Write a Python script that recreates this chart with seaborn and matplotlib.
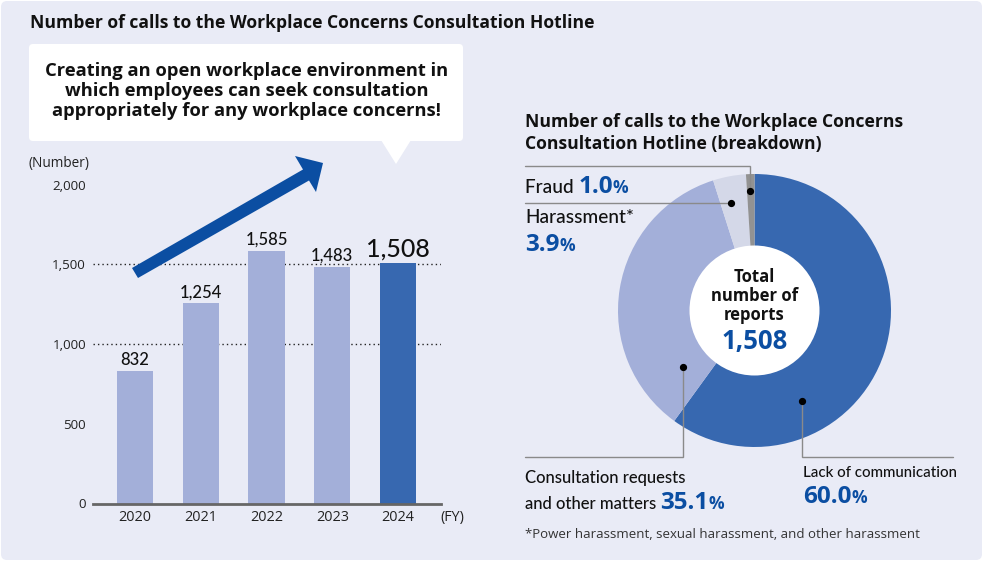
"""
Workplace Concerns Consultation Hotline: calls per year and breakdown
"""
import matplotlib
matplotlib.use('Agg')
import matplotlib.pyplot as plt
import seaborn as sns
import pandas as pd
from matplotlib.patches import Circle, FancyBboxPatch, Polygon

sns.set_style("white")
# Open Sans has a real bold file, Lato a real medium one
plt.rcParams['font.family'] = ['Open Sans', 'DejaVu Sans']

W, H = 982, 561
BG = '#E9EBF6'
LIGHT = '#A3AFD9'
DARK = '#3768B0'
BLUE = '#0B4EA2'
TEXT = '#111111'
GREY = '#8A8A8A'

calls = pd.DataFrame({
    'year': ['2020', '2021', '2022', '2023', '2024'],
    'calls': [832, 1254, 1585, 1483, 1508],
})
breakdown = {
    'Lack of communication': (60.0, DARK),
    'Consultation requests and other matters': (35.1, LIGHT),
    'Harassment': (3.9, '#D4D8E8'),
    'Fraud': (1.0, '#929292'),
}


def px_axes(fig, left, top, right, bottom):
    """Axes placed by pixel edges of the figure"""
    return fig.add_axes([left / W, 1 - bottom / H, (right - left) / W, (bottom - top) / H])


def text_runs(ax, x, y, runs):
    """Writes several styled pieces one after another on the same baseline"""
    renderer = ax.figure.canvas.get_renderer()
    for txt, size, weight, color in runs:
        family = ['Lato', 'DejaVu Sans'] if weight == 'medium' else ['Open Sans', 'DejaVu Sans']
        t = ax.text(x, y, txt, fontsize=size, fontweight=weight, color=color, family=family,
                    ha='left', va='baseline')
        x = t.get_window_extent(renderer).x1


fig = plt.figure(figsize=(W / 100, H / 100), dpi=100, facecolor='white')

# Overlay in pixel coordinates for the panel, callout and labels
bg = px_axes(fig, 0, 0, W, H)
bg.set_xlim(0, W)
bg.set_ylim(H, 0)
bg.axis('off')
bg.add_patch(FancyBboxPatch((5, 5), W - 9, H - 10, boxstyle='round,pad=4,rounding_size=6',
                            fc=BG, ec='none'))

# Bar chart
ax = px_axes(fig, 93, 184.5, 441, 503.5)
ax.patch.set_alpha(0)
for level in [1000, 1500]:
    ax.axhline(level, color='#222222', lw=1, ls=(0, (1, 2.2)), zorder=0)
sns.barplot(data=calls, x='year', y='calls', hue='year', ax=ax, width=0.55, legend=False,
            palette=[LIGHT, LIGHT, LIGHT, LIGHT, DARK], saturation=1, linewidth=0, zorder=2)
ax.set_xlim(-0.639, 4.654)
ax.set_ylim(0, 2000)
ax.set_xlabel('')
ax.set_ylabel('')
ax.set_yticks([0, 500, 1000, 1500, 2000])
ax.set_yticklabels(['0', '500', '1,000', '1,500', '2,000'])
ax.tick_params(axis='y', length=0, pad=5, labelsize=9.6, labelcolor='#222222')
ax.tick_params(axis='x', length=0, pad=5, labelsize=10.4, labelcolor='#222222')
for side in ['top', 'left', 'right']:
    ax.spines[side].set_visible(False)
ax.spines['bottom'].set_color('#666666')
ax.spines['bottom'].set_linewidth(2)

# Value labels
for i, row in calls.iterrows():
    last = row['year'] == '2024'
    ax.text(i, row['calls'] + 38, f"{row['calls']:,}", ha='center', va='baseline',
            fontsize=18 if last else 12, fontweight='medium', color=TEXT, zorder=5,
            family=['Lato', 'DejaVu Sans'])

# Donut chart
cx, cy, r = 754.5, 310.5, 136.5
pie = px_axes(fig, cx - r, cy - r, cx + r, cy + r)
values = [v[0] for v in breakdown.values()]
colors = [v[1] for v in breakdown.values()]
pie.pie(values, colors=colors, startangle=90, counterclock=False, radius=1,
        wedgeprops={'linewidth': 0})
pie.add_patch(Circle((0, 0), 65 / r, fc='white', ec='none', zorder=5))
pie.set_xlim(-1, 1)
pie.set_ylim(-1, 1)

# Everything else goes on a top layer
top = px_axes(fig, 0, 0, W, H)
top.set_xlim(0, W)
top.set_ylim(H, 0)
top.axis('off')
fig.canvas.draw()

top.text(30, 27.5, 'Number of calls to the Workplace Concerns Consultation Hotline',
         fontsize=12.6, fontweight='bold', color=TEXT, ha='left', va='baseline')

# Callout
top.add_patch(FancyBboxPatch((32, 47), 428, 91, boxstyle='round,pad=3,rounding_size=4',
                             fc='white', ec='none'))
top.add_patch(Polygon([(381, 140), (411, 140), (396, 164)], fc='white', ec='none'))
top.text(247, 91, 'Creating an open workplace environment in\n'
                  'which employees can seek consultation\n'
                  'appropriately for any workplace concerns!',
         fontsize=13.25, fontweight='bold', color=TEXT, ha='center', va='center',
         linespacing=1.16)

# Trend arrow
top.add_patch(Polygon([(132, 268), (303, 169.5), (295, 156), (323, 163), (316, 192),
                       (309, 180.5), (138, 278)], fc=BLUE, ec='none'))

top.text(29, 167, '(Number)', fontsize=9.8, color='#222222', va='baseline')
top.text(440, 521, '(FY)', fontsize=10.4, color='#222222', va='baseline')

# Right hand titles
top.text(525, 126.5, 'Number of calls to the Workplace Concerns', fontsize=12.6,
         fontweight='bold', color=TEXT, va='baseline')
top.text(525, 148.5, 'Consultation Hotline (breakdown)', fontsize=12.6,
         fontweight='bold', color=TEXT, va='baseline')

# Center of the donut
top.text(cx, 296, 'Total\nnumber of\nreports', fontsize=12, fontweight='bold', color=TEXT,
         ha='center', va='center', linespacing=1.08)
top.text(cx, 341, '1,508', fontsize=18.5, fontweight='bold', color=BLUE, ha='center',
         va='center')

# Leader lines
for xs, ys, dot in [
    ([525, 750, 750], [166, 166, 191], (750, 191)),
    ([525, 731], [203, 203], (731, 203)),
    ([525, 683, 683], [456.5, 456.5, 367], (683, 367)),
    ([953, 802, 802], [456.5, 456.5, 401], (802, 401)),
]:
    top.plot(xs, ys, color=GREY, lw=1, solid_joinstyle='miter')
    top.plot(*dot, 'o', color='black', ms=4.2)

# Breakdown labels
text_runs(top, 525, 192.5, [('Fraud ', 13.7, 'medium', TEXT), ('1.0', 17.5, 'bold', BLUE),
                            ('%', 12.5, 'bold', BLUE)])
text_runs(top, 525, 222.5, [('Harassment*', 13.7, 'medium', TEXT)])
text_runs(top, 525, 250.5, [('3.9', 17.5, 'bold', BLUE), ('%', 12.5, 'bold', BLUE)])
text_runs(top, 525, 482.5, [('Consultation requests', 12, 'medium', TEXT)])
text_runs(top, 525, 509, [('and other matters ', 12, 'medium', TEXT),
                          ('35.1', 17.5, 'bold', BLUE), ('%', 12.5, 'bold', BLUE)])
text_runs(top, 803, 476.5, [('Lack of communication', 10.8, 'medium', TEXT)])
text_runs(top, 803, 502.5, [('60.0', 17.5, 'bold', BLUE), ('%', 12.5, 'bold', BLUE)])
top.text(525, 538, '*Power harassment, sexual harassment, and other harassment',
         fontsize=9.5, color='#333333', va='baseline')

plt.savefig('out.png', dpi=100)
plt.close()
